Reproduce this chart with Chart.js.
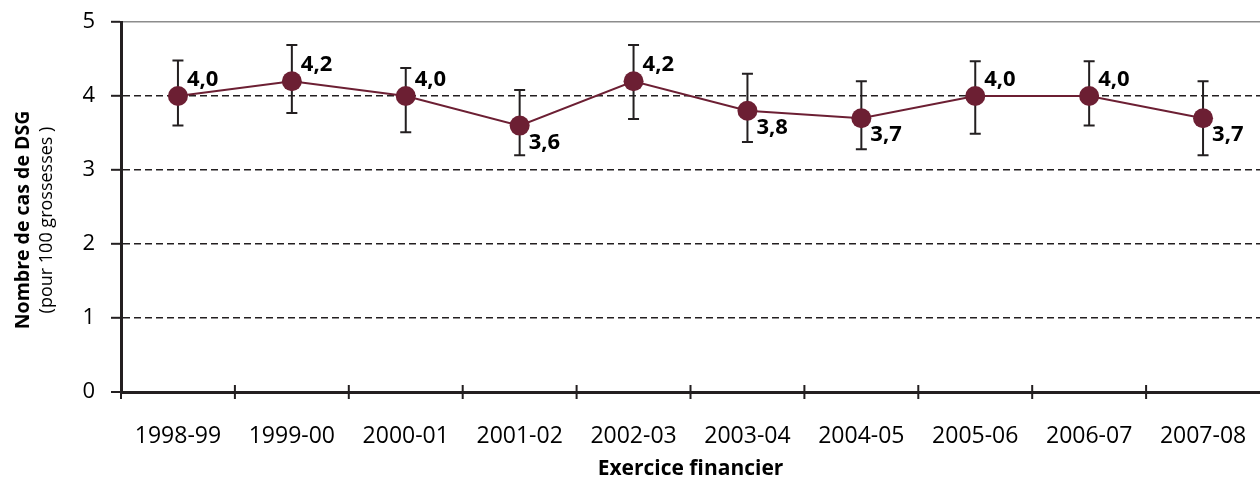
<!DOCTYPE html>
<html lang="fr">
<head>
<meta charset="utf-8">
<script src="https://cdn.jsdelivr.net/npm/chart.js@4.4.1/dist/chart.umd.min.js"></script>
<style>
  html, body { margin: 0; padding: 0; background: #fff; overflow: hidden; }
  /* 10 px de plus à droite : le cadre du graphique s'arrête au bord de la fenêtre */
  #wrap { width: 1270px; height: 482px; position: relative; }
</style>
</head>
<body>
<div id="wrap"><canvas id="dsg"></canvas></div>
<script>
const exercices = ["1998-99", "1999-00", "2000-01", "2001-02", "2002-03",
                   "2003-04", "2004-05", "2005-06", "2006-07", "2007-08"];
const taux = [4.0, 4.2, 4.0, 3.6, 4.2, 3.8, 3.7, 4.0, 4.0, 3.7];
// intervalles de confiance
const borneInf = [3.6, 3.77, 3.51, 3.2, 3.69, 3.38, 3.28, 3.49, 3.6, 3.2];
const borneSup = [4.48, 4.69, 4.38, 4.08, 4.69, 4.3, 4.2, 4.47, 4.47, 4.2];
const graduations = [0, 1, 2, 3, 4, 5];

const POLICE = "'Open Sans', sans-serif";
const NOIR = "#231f20";
const BORDEAUX = "#6c1f33";

const fmt = v => v.toFixed(1).replace(".", ",");

// barres d'erreur verticales avec petits embouts
const barresErreur = {
  id: "barresErreur",
  beforeDatasetsDraw(chart) {
    const { ctx, scales: { x, y } } = chart;
    ctx.save();
    ctx.strokeStyle = NOIR;
    ctx.lineWidth = 2;
    taux.forEach((v, i) => {
      const px = x.getPixelForValue(i);
      const haut = y.getPixelForValue(borneSup[i]);
      const bas = y.getPixelForValue(borneInf[i]);
      ctx.beginPath();
      ctx.moveTo(px, haut); ctx.lineTo(px, bas);
      ctx.moveTo(px - 5.5, haut); ctx.lineTo(px + 5.5, haut);
      ctx.moveTo(px - 5.5, bas); ctx.lineTo(px + 5.5, bas);
      ctx.stroke();
    });
    ctx.restore();
  }
};

// valeurs au-dessus (>= 4) ou en dessous du point
const etiquettes = {
  id: "etiquettes",
  afterDatasetsDraw(chart) {
    const { ctx } = chart;
    const pts = chart.getDatasetMeta(0).data;
    ctx.save();
    ctx.font = "bold 22px " + POLICE;
    ctx.fillStyle = "#000";
    ctx.textAlign = "left";
    ctx.textBaseline = "middle";
    taux.forEach((v, i) => {
      const p = pts[i];
      const dy = v >= 4 ? -16 : 17;
      ctx.fillText(fmt(v), p.x + 9, p.y + dy);
    });
    ctx.restore();
  }
};

// titre de l'axe vertical sur deux lignes, et traits de graduation qui croisent l'axe x
const habillage = {
  id: "habillage",
  afterDraw(chart) {
    const { ctx, chartArea, scales: { x } } = chart;
    ctx.save();
    ctx.fillStyle = "#000";
    ctx.textAlign = "center";
    ctx.textBaseline = "middle";
    ctx.translate(23, 220);
    ctx.rotate(-Math.PI / 2);
    ctx.font = "bold 19.5px " + POLICE;
    ctx.fillText("Nombre de cas de DSG", 0, 0);
    ctx.font = "18px " + POLICE;
    ctx.fillText("(pour 100 grossesses )", 0, 24);
    ctx.restore();

    ctx.save();
    ctx.strokeStyle = NOIR;
    ctx.lineWidth = 2;
    const pas = x.getPixelForValue(1) - x.getPixelForValue(0);
    ctx.beginPath();
    for (let i = 0; i < exercices.length; i++) {
      const bx = x.getPixelForValue(i) - pas / 2;
      ctx.moveTo(bx, chartArea.bottom + 7);
      ctx.lineTo(bx, chartArea.bottom - 7);
    }
    ctx.stroke();
    ctx.restore();
  }
};

new Chart(document.getElementById("dsg"), {
  type: "line",
  data: {
    labels: exercices,
    datasets: [{
      data: taux,
      borderColor: BORDEAUX,
      backgroundColor: BORDEAUX,
      borderWidth: 2,
      pointRadius: 10,
      pointHoverRadius: 10,
      pointBackgroundColor: BORDEAUX,
      pointBorderWidth: 0,
      tension: 0
    }]
  },
  options: {
    responsive: true,
    maintainAspectRatio: false,
    animation: false,
    events: [],
    layout: { padding: { top: 22, right: 0, left: 0, bottom: 0 } },
    plugins: {
      legend: { display: false },
      tooltip: { enabled: false }
    },
    scales: {
      x: {
        offset: true,
        grid: {
          offset: true,
          drawOnChartArea: false,
          tickLength: 31,
          tickColor: "rgba(0,0,0,0)"
        },
        border: { color: NOIR, width: 3 },
        ticks: {
          color: "#000",
          padding: 0,
          maxRotation: 0,
          font: { family: POLICE, size: 23 }
        },
        title: {
          display: true,
          text: "Exercice financier",
          color: "#000",
          padding: { top: 0, bottom: 0 },
          font: { family: POLICE, size: 21, weight: "bold" }
        },
        afterFit(scale) {
          scale.height = 90;
        }
      },
      y: {
        min: 0,
        max: 5,
        afterBuildTicks(scale) {
          scale.ticks = graduations.map(v => ({ value: v }));
        },
        grid: {
          color: ctx => ctx.tick && ctx.tick.value === 5 ? "#8c8c8c" : NOIR,
          lineWidth: ctx => ctx.tick && ctx.tick.value === 0 ? 0 : 1.6,
          tickLength: 10,
          tickColor: NOIR,
          tickWidth: 2,
          tickBorderDash: []
        },
        border: {
          color: NOIR,
          width: 3,
          dash: ctx => ctx.tick && ctx.tick.value === 5 ? [] : [7, 4]
        },
        ticks: {
          color: "#000",
          padding: 16,
          font: { family: POLICE, size: 22 },
          callback: v => String(v)
        },
        afterFit(scale) {
          scale.width = 121;
          scale.paddingTop = 0;
          scale.paddingBottom = 0;
        }
      }
    }
  },
  plugins: [barresErreur, etiquettes, habillage]
});
</script>
</body>
</html>
